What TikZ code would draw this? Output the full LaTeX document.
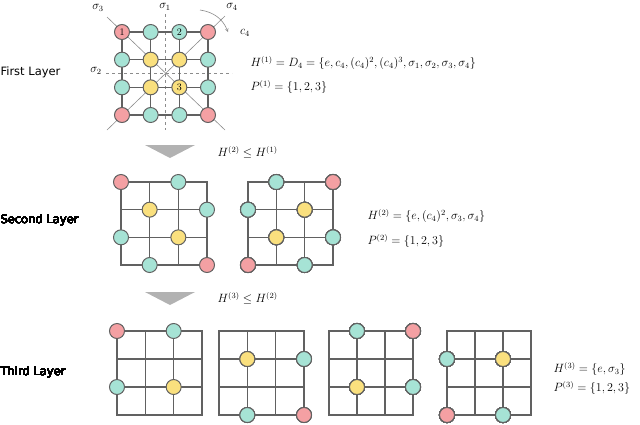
\documentclass[tikz,border=0pt]{standalone}
\usepackage{fontspec}
\newfontfamily\lab{DejaVu Sans}
\definecolor{cr}{HTML}{F4A0A3}
\definecolor{ct}{HTML}{A6E3D5}
\definecolor{cy}{HTML}{FAE07E}
\tikzset{
 gl/.style={draw=black!62,line width=1.4pt},
 dot/.style={circle,draw=black!62,line width=1pt,minimum size=15pt,inner sep=0pt,font=\normalsize},
 red/.style={dot,fill=cr},
 teal/.style={dot,fill=ct},
 yel/.style={dot,fill=cy},
 dl/.style={dashed,draw=black!45,line width=0.7pt},
 axl/.style={draw=black!45,line width=0.6pt},
 sl/.style={font=\large,inner sep=0.5pt},
 layer/.style={font=\lab\fontsize{11.5}{13}\selectfont,anchor=west},
 eq/.style={anchor=west,font=\fontsize{12}{14}\selectfont},
 tri/.style={fill=black!30,draw=none}
}
\newcommand{\mygrid}[4]{\draw[gl] (#1,#2) rectangle (#3,#4)
 ({#1+(#3-#1)/3},#2) -- ({#1+(#3-#1)/3},#4)
 ({#1+2*(#3-#1)/3},#2) -- ({#1+2*(#3-#1)/3},#4)
 (#1,{#2+(#4-#2)/3}) -- (#3,{#2+(#4-#2)/3})
 (#1,{#2+2*(#4-#2)/3}) -- (#3,{#2+2*(#4-#2)/3});}
\newcommand{\gd}[7]{\node[#7] at ({#1+#5*(#3-#1)/3},{#2+#6*(#4-#2)/3}) {};}
\begin{document}
\begin{tikzpicture}[x=1pt,y=-1pt]
\useasboundingbox (0,0) rectangle (640,424);
% first layer
\draw[dl] (165,14) -- (165,130);
\draw[dl] (106,73) -- (232,73);
\draw[axl] (107,17) -- (225,130);
\draw[axl] (225,16) -- (107,130);
\draw[axl,->,>=stealth] (200,10) to[bend left=30] (228,32);
\node[sl] at (98,8) {$\sigma_3$};
\node[sl] at (165,7) {$\sigma_1$};
\node[sl] at (232,7) {$\sigma_4$};
\node[sl] at (245,33) {$c_4$};
\node[sl] at (96,71) {$\sigma_2$};
\mygrid{122}{32}{208}{115}
\foreach \c/\r/\s/\t in {0/0/red/1,1/0/teal/,2/0/teal/2,3/0/red/,0/1/teal/,1/1/yel/,2/1/yel/,3/1/teal/,0/2/teal/,1/2/yel/,2/2/yel/3,3/2/teal/,0/3/red/,1/3/teal/,2/3/teal/,3/3/red/}
 \node[\s] at ({122+\c*86/3},{32+\r*83/3}) {\t};
\node[layer] at (-3,72) {First Layer};
\node[eq] at (247,63) {$H^{(1)}=D_4=\{e,c_4,(c_4)^2,(c_4)^3,\sigma_1,\sigma_2,\sigma_3,\sigma_4\}$};
\node[eq] at (247,87) {$P^{(1)}=\{1,2,3\}$};
% arrow 1
\fill[tri] (145,145) -- (195,145) -- (170,158) -- cycle;
\node[eq] at (214,152) {$H^{(2)}\le H^{(1)}$};
% second layer
\mygrid{121}{182}{207}{265}
\foreach \c/\r/\s in {0/0/red,2/0/teal,1/1/yel,3/1/teal,0/2/teal,2/2/yel,1/3/teal,3/3/red} \gd{121}{182}{207}{265}{\c}{\r}{\s}
\mygrid{248}{182}{333}{265}
\foreach \c/\r/\s in {1/0/teal,3/0/red,0/1/teal,2/1/yel,1/2/yel,3/2/teal,0/3/red,2/3/teal} \gd{248}{182}{333}{265}{\c}{\r}{\s}
\node[layer] at (-3,220) {Second Layer};
\node[eq] at (364,216) {$H^{(2)}=\{e,(c_4)^2,\sigma_3,\sigma_4\}$};
\node[eq] at (364,241) {$P^{(2)}=\{1,2,3\}$};
% arrow 2
\fill[tri] (145,292) -- (195,292) -- (170,305) -- cycle;
\node[eq] at (214,298) {$H^{(3)}\le H^{(2)}$};
% third layer
\mygrid{117}{331}{202}{415}
\foreach \c/\r/\s in {0/0/red,2/0/teal,0/2/teal,2/2/yel} \gd{117}{331}{202}{415}{\c}{\r}{\s}
\mygrid{219}{331}{304}{415}
\foreach \c/\r/\s in {1/1/yel,3/1/teal,1/3/teal,3/3/red} \gd{219}{331}{304}{415}{\c}{\r}{\s}
\mygrid{329}{331}{413}{415}
\foreach \c/\r/\s in {1/0/teal,3/0/red,1/2/yel,3/2/teal} \gd{329}{331}{413}{415}{\c}{\r}{\s}
\mygrid{447}{331}{531}{415}
\foreach \c/\r/\s in {0/1/teal,2/1/yel,0/3/red,2/3/teal} \gd{447}{331}{531}{415}{\c}{\r}{\s}
\node[layer] at (-3,372) {Third Layer};
\node[eq] at (550,369) {$H^{(3)}=\{e,\sigma_3\}$};
\node[eq] at (550,388) {$P^{(3)}=\{1,2,3\}$};
\end{tikzpicture}
\end{document}
